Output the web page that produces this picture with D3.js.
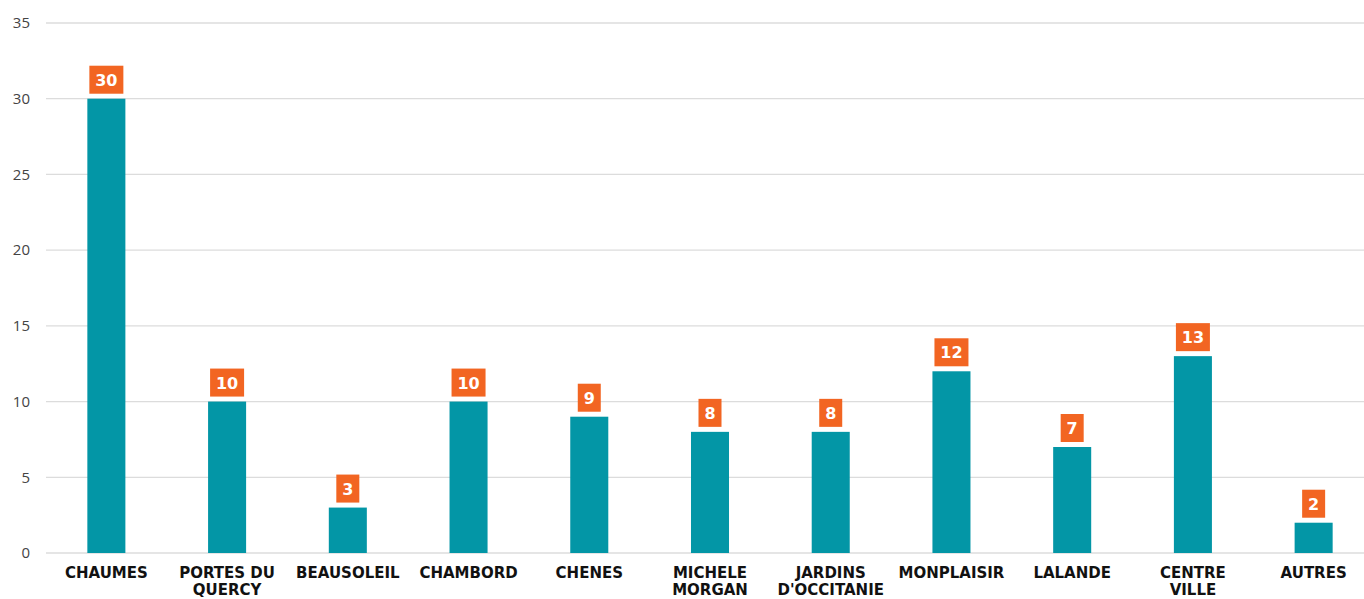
<!DOCTYPE html>
<html><head><meta charset="utf-8">
<script src="https://cdn.jsdelivr.net/npm/d3@7"></script>
<style>body{margin:0;background:#fff}svg{display:block}</style>
</head><body><svg id="c" width="1364" height="599"></svg>
<script>
const categories = [["CHAUMES"],["PORTES DU","QUERCY"],["BEAUSOLEIL"],["CHAMBORD"],["CHENES"],["MICHELE","MORGAN"],["JARDINS","D'OCCITANIE"],["MONPLAISIR"],["LALANDE"],["CENTRE","VILLE"],["AUTRES"]];
const values = [30,10,3,10,9,8,8,12,7,13,2];
const yTicks = [0,5,10,15,20,25,30,35];

const svg = d3.select("#c");
const names = categories.map(c=>c.join(" "));
const x = d3.scaleBand().domain(names).range([46,1374]).paddingInner(0.685).paddingOuter(0.3425);
const y = d3.scaleLinear().domain([0,35]).range([553,23]);

svg.append("g").selectAll("line").data(yTicks).join("line")
  .attr("x1",46).attr("x2",1364).attr("y1",d=>y(d)).attr("y2",d=>y(d))
  .attr("stroke","#dcdcdc").attr("stroke-width",1.3);

const yAxis = d3.axisLeft(y).tickValues(yTicks).tickSize(0).tickPadding(0);
const ga = svg.append("g").attr("transform","translate(30,0)").call(yAxis);
ga.select(".domain").remove();
ga.selectAll("text").attr("font-family","'Open Sans', sans-serif").attr("font-size",15).attr("fill","#444");

svg.append("g").selectAll("rect").data(values).join("rect")
  .attr("x",(d,i)=>x(names[i])).attr("width",x.bandwidth())
  .attr("y",d=>y(d)).attr("height",d=>y(0)-y(d)).attr("fill","#0396A6");

const lab = svg.append("g").selectAll("g").data(values).join("g")
  .attr("transform",(d,i)=>`translate(${x(names[i])+x.bandwidth()/2},${y(d)-5})`);
lab.append("rect").attr("x",d=>String(d).length>1?-17:-11.5).attr("width",d=>String(d).length>1?34:23)
  .attr("y",-28).attr("height",28).attr("fill","#F26522");
lab.append("text").attr("y",-8).attr("text-anchor","middle").attr("fill","#fff")
  .attr("font-family","'DejaVu Sans', sans-serif").attr("font-weight","bold").attr("font-size",16).text(d=>d);

const cl = svg.append("g").selectAll("text").data(categories).join("text")
  .attr("text-anchor","middle").attr("font-family","'DejaVu Sans', sans-serif").attr("font-weight","bold")
  .attr("font-size",15).attr("fill","#111")
  .attr("transform",(d,i)=>`translate(${x(names[i])+x.bandwidth()/2},578)`);
cl.selectAll("tspan").data(d=>d).join("tspan").attr("x",0).attr("dy",(d,j)=>j?16.5:0).text(d=>d);
</script></body></html>
